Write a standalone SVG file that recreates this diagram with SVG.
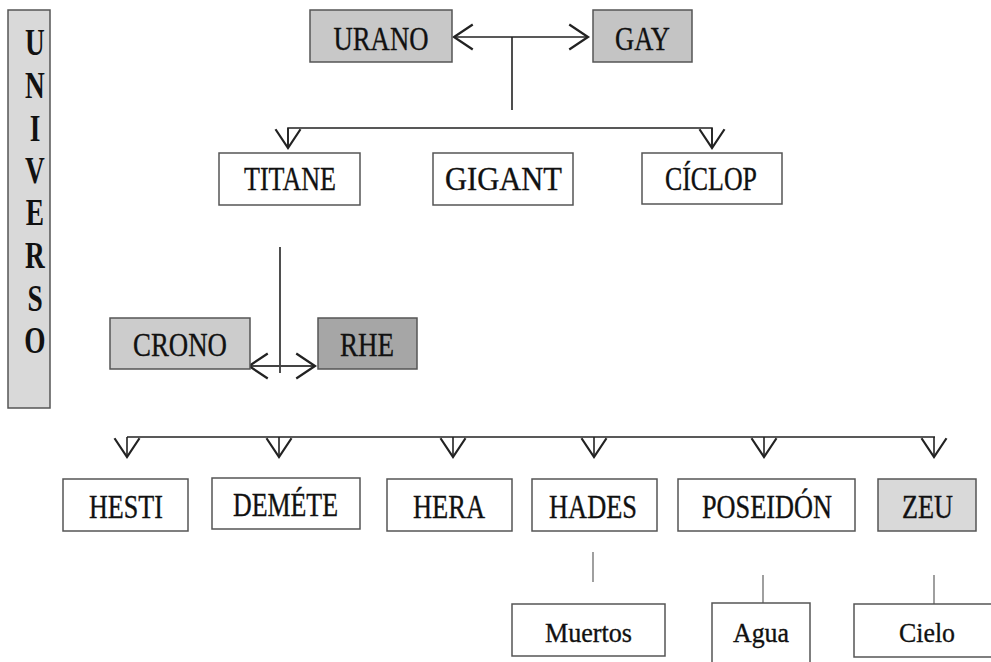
<svg xmlns="http://www.w3.org/2000/svg" width="991" height="662" viewBox="0 0 991 662">
<style>
.box{stroke:#555;stroke-width:1.5}
.t{font-family:'Liberation Serif','Times New Roman',serif;font-size:33px;fill:#111;stroke:#111;stroke-width:0.35;text-anchor:middle}
.s{font-size:28px}
.u{font-family:'Liberation Serif','Times New Roman',serif;font-size:38px;font-weight:bold;fill:#111;text-anchor:middle}
.ln{stroke:#222;stroke-width:1.6;fill:none}
.gl{stroke:#888;stroke-width:1.6;fill:none}
</style>
<defs>
<marker id="ah" markerUnits="userSpaceOnUse" markerWidth="30" markerHeight="30" viewBox="-16 -12 20 24" refX="0" refY="0" orient="auto-start-reverse">
<path d="M-15,-10 L0,0 L-15,10" fill="none" stroke="#222" stroke-width="1.8"/>
</marker>
</defs>
<rect width="991" height="662" fill="#fff"/>
<g id="universo">
<rect class="box" x="8" y="10" width="42" height="398" fill="#d9d9d9"/>
<g transform="translate(35,0) scale(0.72,1)">
<text class="u" x="0" y="55">U</text>
<text class="u" x="0" y="98">N</text>
<text class="u" x="0" y="141">I</text>
<text class="u" x="0" y="183">V</text>
<text class="u" x="0" y="225">E</text>
<text class="u" x="0" y="268">R</text>
<text class="u" x="0" y="311">S</text>
<text class="u" x="0" y="353">O</text>
</g>
</g>
<g id="connectors">
<line class="ln" x1="454" y1="37" x2="588" y2="37" marker-start="url(#ah)" marker-end="url(#ah)"/>
<line class="ln" x1="512" y1="37" x2="512" y2="110"/>
<path class="ln" d="M288,148 V128 H712 V148"/>
<line class="ln" x1="288" y1="128" x2="288" y2="148" marker-end="url(#ah)"/>
<line class="ln" x1="712" y1="128" x2="712" y2="148" marker-end="url(#ah)"/>
<line class="ln" x1="280" y1="247" x2="280" y2="373"/>
<line x1="249" y1="366" x2="315" y2="366" stroke="#444" stroke-width="1.8" marker-start="url(#ah)" marker-end="url(#ah)"/>
<line class="ln" x1="127" y1="437" x2="935" y2="437"/>
<line class="ln" x1="127" y1="437" x2="127" y2="457" marker-end="url(#ah)"/>
<line class="ln" x1="279" y1="437" x2="279" y2="457" marker-end="url(#ah)"/>
<line class="ln" x1="453" y1="437" x2="453" y2="457" marker-end="url(#ah)"/>
<line class="ln" x1="594" y1="437" x2="594" y2="457" marker-end="url(#ah)"/>
<line class="ln" x1="764" y1="437" x2="764" y2="457" marker-end="url(#ah)"/>
<line class="ln" x1="934" y1="437" x2="934" y2="457" marker-end="url(#ah)"/>
<line class="gl" x1="593" y1="552" x2="593" y2="582"/>
<line class="gl" x1="763" y1="575" x2="763" y2="606"/>
<line class="gl" x1="934" y1="575" x2="934" y2="606"/>
</g>
<g id="urano"><rect class="box" x="310" y="10" width="142" height="52" fill="#c8c8c8"/><text class="t" x="381" y="50" textLength="95" lengthAdjust="spacingAndGlyphs">URANO</text></g>
<g id="gay"><rect class="box" x="593" y="10" width="99" height="52" fill="#c4c4c4"/><text class="t" x="642.5" y="50" textLength="55" lengthAdjust="spacingAndGlyphs">GAY</text></g>
<g id="titane"><rect class="box" x="219" y="153" width="141" height="52" fill="#fff"/><text class="t" x="290" y="190" textLength="92" lengthAdjust="spacingAndGlyphs">TITANE</text></g>
<g id="gigant"><rect class="box" x="433" y="153" width="140" height="52" fill="#fff"/><text class="t" x="503.5" y="190" textLength="117" lengthAdjust="spacingAndGlyphs">GIGANT</text></g>
<g id="ciclop"><rect class="box" x="642" y="153" width="140" height="51" fill="#fff"/><text class="t" x="711" y="190" textLength="92" lengthAdjust="spacingAndGlyphs">CÍCLOP</text></g>
<g id="crono"><rect class="box" x="110" y="318" width="140" height="51" fill="#cccccc"/><text class="t" x="180" y="356" textLength="94" lengthAdjust="spacingAndGlyphs">CRONO</text></g>
<g id="rhe"><rect class="box" x="318" y="318" width="99" height="51" fill="#a6a6a6"/><text class="t" x="367" y="356" textLength="54" lengthAdjust="spacingAndGlyphs">RHE</text></g>
<g id="hesti"><rect class="box" x="63" y="479" width="125" height="52" fill="#fff"/><text class="t" x="126" y="518" textLength="74" lengthAdjust="spacingAndGlyphs">HESTI</text></g>
<g id="demete"><rect class="box" x="212" y="478" width="148" height="51" fill="#fff"/><text class="t" x="285.5" y="516" textLength="105" lengthAdjust="spacingAndGlyphs">DEMÉTE</text></g>
<g id="hera"><rect class="box" x="387" y="479" width="125" height="52" fill="#fff"/><text class="t" x="449" y="518" textLength="72" lengthAdjust="spacingAndGlyphs">HERA</text></g>
<g id="hades"><rect class="box" x="532" y="479" width="125" height="52" fill="#fff"/><text class="t" x="593" y="518" textLength="88" lengthAdjust="spacingAndGlyphs">HADES</text></g>
<g id="poseidon"><rect class="box" x="678" y="479" width="177" height="52" fill="#fff"/><text class="t" x="767" y="518" textLength="130" lengthAdjust="spacingAndGlyphs">POSEIDÓN</text></g>
<g id="zeu"><rect class="box" x="878" y="479" width="98" height="52" fill="#d9d9d9"/><text class="t" x="927.5" y="518" textLength="51" lengthAdjust="spacingAndGlyphs">ZEU</text></g>
<g id="muertos"><rect class="box" x="512" y="604" width="153" height="52" fill="#fff"/><text class="t s" x="588.5" y="642" textLength="87" lengthAdjust="spacingAndGlyphs">Muertos</text></g>
<g id="agua"><path class="box" d="M712,662 V603 H810 V662" fill="#fff"/><text class="t s" x="761" y="642" textLength="56" lengthAdjust="spacingAndGlyphs">Agua</text></g>
<g id="cielo"><rect class="box" x="854" y="604" width="150" height="53" fill="#fff"/><text class="t s" x="927" y="642" textLength="56" lengthAdjust="spacingAndGlyphs">Cielo</text></g>
</svg>
